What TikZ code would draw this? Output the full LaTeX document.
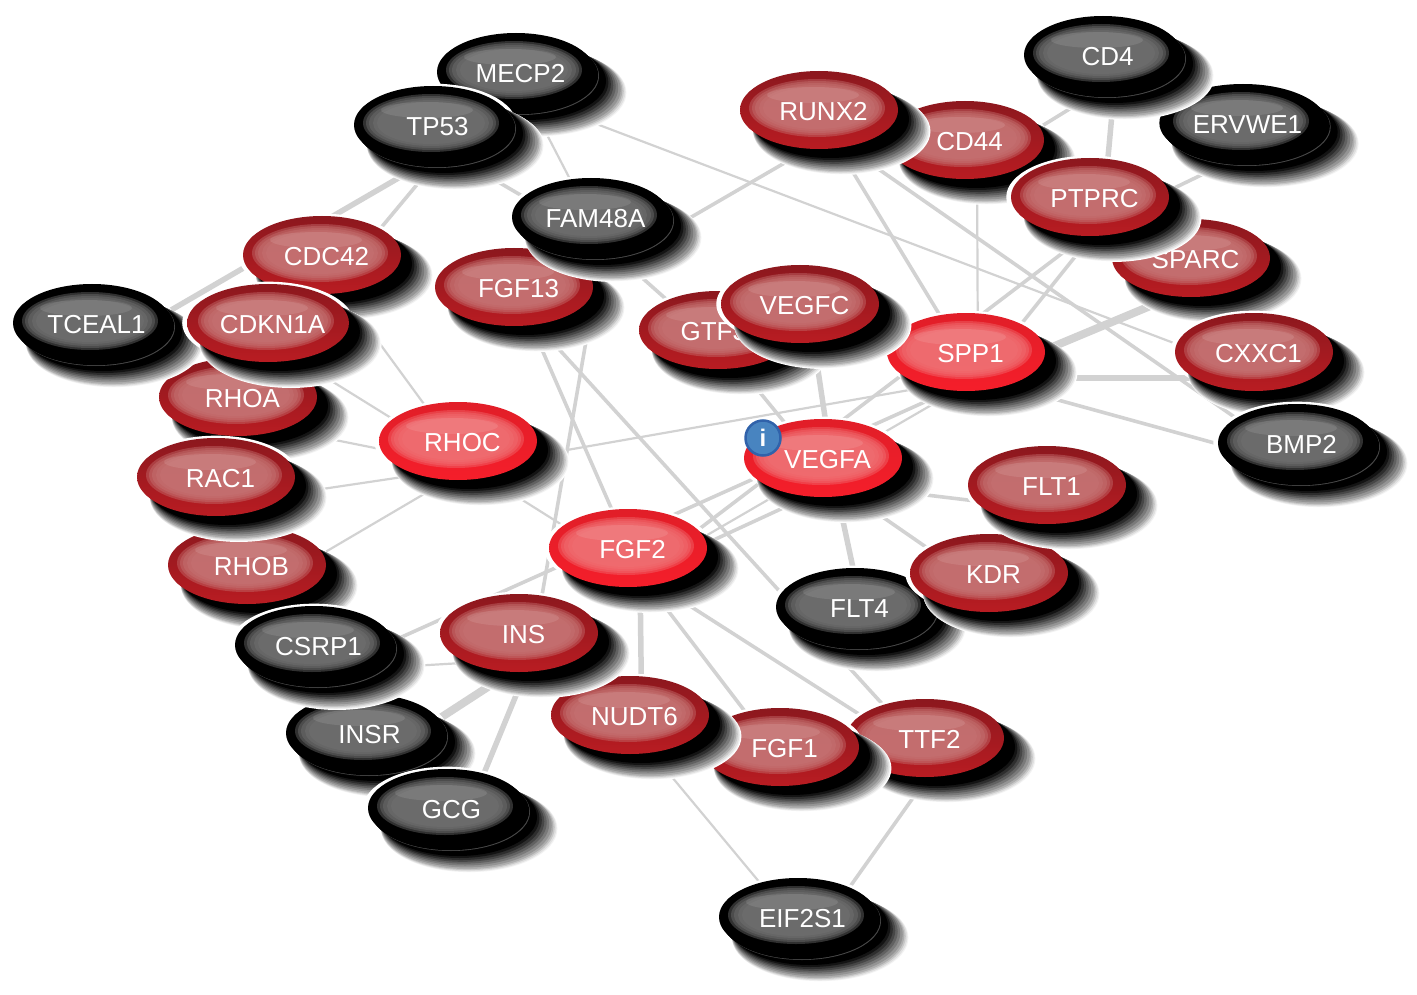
\documentclass[tikz,border=0pt]{standalone}
\usepackage{fontspec}
\setmainfont{Liberation Sans}
\usetikzlibrary{shapes.geometric}
\usetikzlibrary{shadows}
\pgfdeclarelayer{background}
\pgfsetlayers{background,main}

\definecolor{edgegray}{RGB}{210,210,210}
\definecolor{redtop}{RGB}{140,24,30}
\definecolor{redbot}{RGB}{185,28,34}
\definecolor{redglass}{RGB}{198,116,116}
\definecolor{hottop}{RGB}{225,30,40}
\definecolor{hotbot}{RGB}{245,30,42}
\definecolor{hotglass}{RGB}{240,112,116}
\definecolor{darkglass}{RGB}{116,116,116}
\definecolor{infoblue}{RGB}{72,132,192}
\definecolor{inforim}{RGB}{48,98,170}

%stacked ellipses give the soft glass face of a node.
\newcommand{\glassface}[1]{%
  \foreach \rx/\ry in {68/29,65/27,62/25,58/23,54/21}
    \fill[#1,opacity=.42] ([shift={(-2,-2)}]path picture bounding box.center) ellipse [x radius=\rx pt,y radius=\ry pt];
  \fill[white,opacity=.10] ([shift={(-6,-15)}]path picture bounding box.center) ellipse [x radius=46pt,y radius=8pt];
}

\begin{document}
\begin{tikzpicture}[x=1pt,y=-1pt,
    softshadow/.style={
      general shadow={fill=white,shadow scale=1.06},
      general shadow={fill=white,shadow xshift=20.5pt,shadow yshift=-19pt,shadow scale=1.12},
      general shadow={fill=black!5,shadow xshift=20pt,shadow yshift=-18.5pt,shadow scale=1.115},
      general shadow={fill=black!12,shadow xshift=19.5pt,shadow yshift=-18pt,shadow scale=1.11},
      general shadow={fill=black!22,shadow xshift=19pt,shadow yshift=-17.5pt,shadow scale=1.10},
      general shadow={fill=black!32,shadow xshift=18.5pt,shadow yshift=-17pt,shadow scale=1.09},
      general shadow={fill=black!42,shadow xshift=18pt,shadow yshift=-16pt,shadow scale=1.08},
      general shadow={fill=black!52,shadow xshift=17pt,shadow yshift=-15pt,shadow scale=1.065},
      general shadow={fill=black!62,shadow xshift=16pt,shadow yshift=-14pt,shadow scale=1.05},
      general shadow={fill=black!72,shadow xshift=15pt,shadow yshift=-13pt,shadow scale=1.035},
      general shadow={fill=black!82,shadow xshift=14pt,shadow yshift=-12pt,shadow scale=1.02},
      general shadow={fill=black!92,shadow xshift=12.5pt,shadow yshift=-10.5pt,shadow scale=1.01},
      general shadow={fill=black,shadow xshift=11pt,shadow yshift=-9pt}},
    genebase/.style={ellipse,minimum width=158pt,minimum height=78pt,inner sep=0pt,
      text=white,font=\fontsize{26}{26}\selectfont,text height=21pt,text depth=0pt,
      execute at begin node={\hspace*{9pt}}},
    genered/.style={genebase,softshadow,top color=redtop,bottom color=redbot,
      path picture={\glassface{redglass}}},
    genehot/.style={genebase,softshadow,top color=hottop,bottom color=hotbot,
      path picture={\glassface{hotglass}}},
    genedark/.style={genebase,softshadow,
      general shadow={fill=black!72,shadow xshift=4pt,shadow yshift=-4pt},
      general shadow={fill=black,shadow xshift=3.2pt,shadow yshift=-3.2pt},
      fill=black,path picture={\glassface{darkglass}}},
    edgethin/.style={draw=edgegray,line width=2.2pt},
    edgemid/.style={draw=edgegray,line width=3.6pt},
    edgewide/.style={draw=edgegray,line width=5.5pt},
    edgefat/.style={draw=edgegray,line width=8pt}]
  \useasboundingbox (0,0) rectangle (1417,995);

  % Define the point of a node where its connectors meet.
  \def\hub#1{([shift={(12pt,-26pt)}]#1.center)}

  % Left cluster, nodes drawn later lie over the earlier ones.
  \node[genedark] (mecp2) at (516,72) {MECP2};
  \node[genedark] (tp53) at (433,125) {TP53};
  \node[genered] (fgf13) at (514,287) {FGF13};
  \node[genedark] (fam48a) at (591,217) {FAM48A};
  \node[genered] (rhob) at (247,565) {RHOB};
  \node[genered] (rhoa) at (238,397) {RHOA};
  \node[genered] (rac1) at (216,477) {RAC1};
  \node[genered] (cdc42) at (322,255) {CDC42};
  \node[genedark] (tceal1) at (92,323) {TCEAL1};
  \node[genered] (cdkn1a) at (268,323) {CDKN1A};
  \node[genehot] (rhoc) at (458,441) {RHOC};

  % Lower cluster.
  \node[genedark] (insr) at (365,733) {INSR};
  \node[genedark] (gcg) at (447,808) {GCG};
  \node[genedark] (csrp1) at (314,645) {CSRP1};
  \node[genered] (ttf2) at (925,738) {TTF2};
  \node[genered] (fgf1) at (780,747) {FGF1};
  \node[genered] (nudt6) at (630,715) {NUDT6};
  \node[genered] (ins) at (519,633) {INS};
  \node[genehot] (fgf2) at (628,548) {FGF2};
  \node[genedark] (flt4) at (855,607) {FLT4};
  \node[genered] (kdr) at (989,573) {KDR};
  \node[genered] (flt1) at (1047,485) {FLT1};
  \node[genedark] (eif2s1) at (798,917) {EIF2S1};

  % Centre and right cluster.
  \node[genered] (gtf3a) at (718,330) {GTF3A};
  \node[genehot] (spp1) at (966,352) {SPP1};
  \node[genered] (vegfc) at (800,304) {VEGFC};
  \node[genehot] (vegfa) at (823,458) {VEGFA};
  \node[genered] (cd44) at (965,140) {CD44};
  \node[genered] (sparc) at (1191,258) {SPARC};
  \node[genered] (ptprc) at (1090,197) {PTPRC};
  \node[genered] (runx2) at (819,110) {RUNX2};
  \node[genedark] (ervwe1) at (1243,123) {ERVWE1};
  \node[genedark] (cd4) at (1103,55) {CD4};
  \node[genered] (cxxc1) at (1254,352) {CXXC1};
  \node[genedark] (bmp2) at (1297,443) {BMP2};

  % Info badge on VEGFA.
  \node[circle,fill=infoblue,draw=inforim,line width=2.5pt,minimum size=35pt,inner sep=0pt,
    text=white,font=\fontsize{24}{24}\bfseries\selectfont] (vegfainfo) at (763,438) {i};

  \begin{pgfonlayer}{background}
    % Connectors of the left cluster.
    \draw[edgewide] \hub{tp53} -- \hub{tceal1};
    \draw[edgemid] \hub{tp53} -- \hub{cdkn1a};
    \draw[edgemid] \hub{tp53} -- \hub{fam48a};
    \draw[edgethin] \hub{mecp2} -- \hub{fam48a};
    \draw[edgethin] \hub{mecp2} -- \hub{cxxc1};
    \draw[edgethin] \hub{cdc42} -- \hub{rhoc};
    \draw[edgethin] \hub{cdkn1a} -- \hub{rhoc};
    \draw[edgethin] \hub{rhoa} -- \hub{rhoc};
    \draw[edgethin] \hub{rac1} -- \hub{rhoc};
    \draw[edgethin] \hub{rhob} -- \hub{rhoc};
    \draw[edgethin] \hub{rhoc} -- \hub{fgf2};
    \draw[edgethin] \hub{rhoc} -- \hub{spp1};

    % Connectors through the centre.
    \draw[edgemid] \hub{fgf13} -- \hub{runx2};
    \draw[edgemid] \hub{fgf13} -- \hub{fgf2};
    \draw[edgemid] \hub{fgf13} -- \hub{ttf2};
    \draw[edgemid] \hub{fam48a} -- \hub{gtf3a};
    \draw[edgemid] \hub{fam48a} -- \hub{ins};
    \draw[edgemid] \hub{gtf3a} -- \hub{vegfa};
    \draw[edgewide] \hub{vegfc} -- \hub{vegfa};
    \draw[edgemid] \hub{fgf2} -- \hub{vegfa};
    \draw[edgethin] \hub{fgf2} -- \hub{spp1};
    \draw[edgemid] \hub{fgf2} -- \hub{ptprc};
    \draw[edgemid] \hub{csrp1} -- \hub{spp1};

    % Connectors of the lower cluster.
    \draw[edgewide] \hub{fgf2} -- \hub{nudt6};
    \draw[edgemid] \hub{fgf2} -- \hub{fgf1};
    \draw[edgemid] \hub{fgf2} -- \hub{ttf2};
    \draw[edgethin] \hub{ins} -- \hub{csrp1};
    \draw[edgefat] \hub{ins} -- \hub{insr};
    \draw[edgewide] \hub{ins} -- \hub{gcg};
    \draw[edgethin] \hub{nudt6} -- \hub{eif2s1};
    \draw[edgemid] \hub{ttf2} -- \hub{eif2s1};
    \draw[edgewide] \hub{vegfa} -- \hub{flt4};
    \draw[edgemid] \hub{vegfa} -- \hub{flt1};
    \draw[edgemid] \hub{vegfa} -- \hub{kdr};

    % Connectors of the right cluster.
    \draw[edgemid] \hub{runx2} -- \hub{spp1};
    \draw[edgemid] \hub{runx2} -- \hub{bmp2};
    \draw[edgethin] \hub{cd44} -- \hub{spp1};
    \draw[edgemid] \hub{cd44} -- \hub{cd4};
    \draw[edgewide] \hub{ptprc} -- \hub{cd4};
    \draw[edgemid] \hub{ptprc} -- \hub{ervwe1};
    \draw[edgemid] \hub{spp1} -- \hub{ptprc};
    \draw[edgefat] \hub{spp1} -- \hub{sparc};
    \draw[edgewide] \hub{spp1} -- \hub{cxxc1};
    \draw[edgemid] \hub{spp1} -- \hub{bmp2};
  \end{pgfonlayer}
\end{tikzpicture}
\end{document}
